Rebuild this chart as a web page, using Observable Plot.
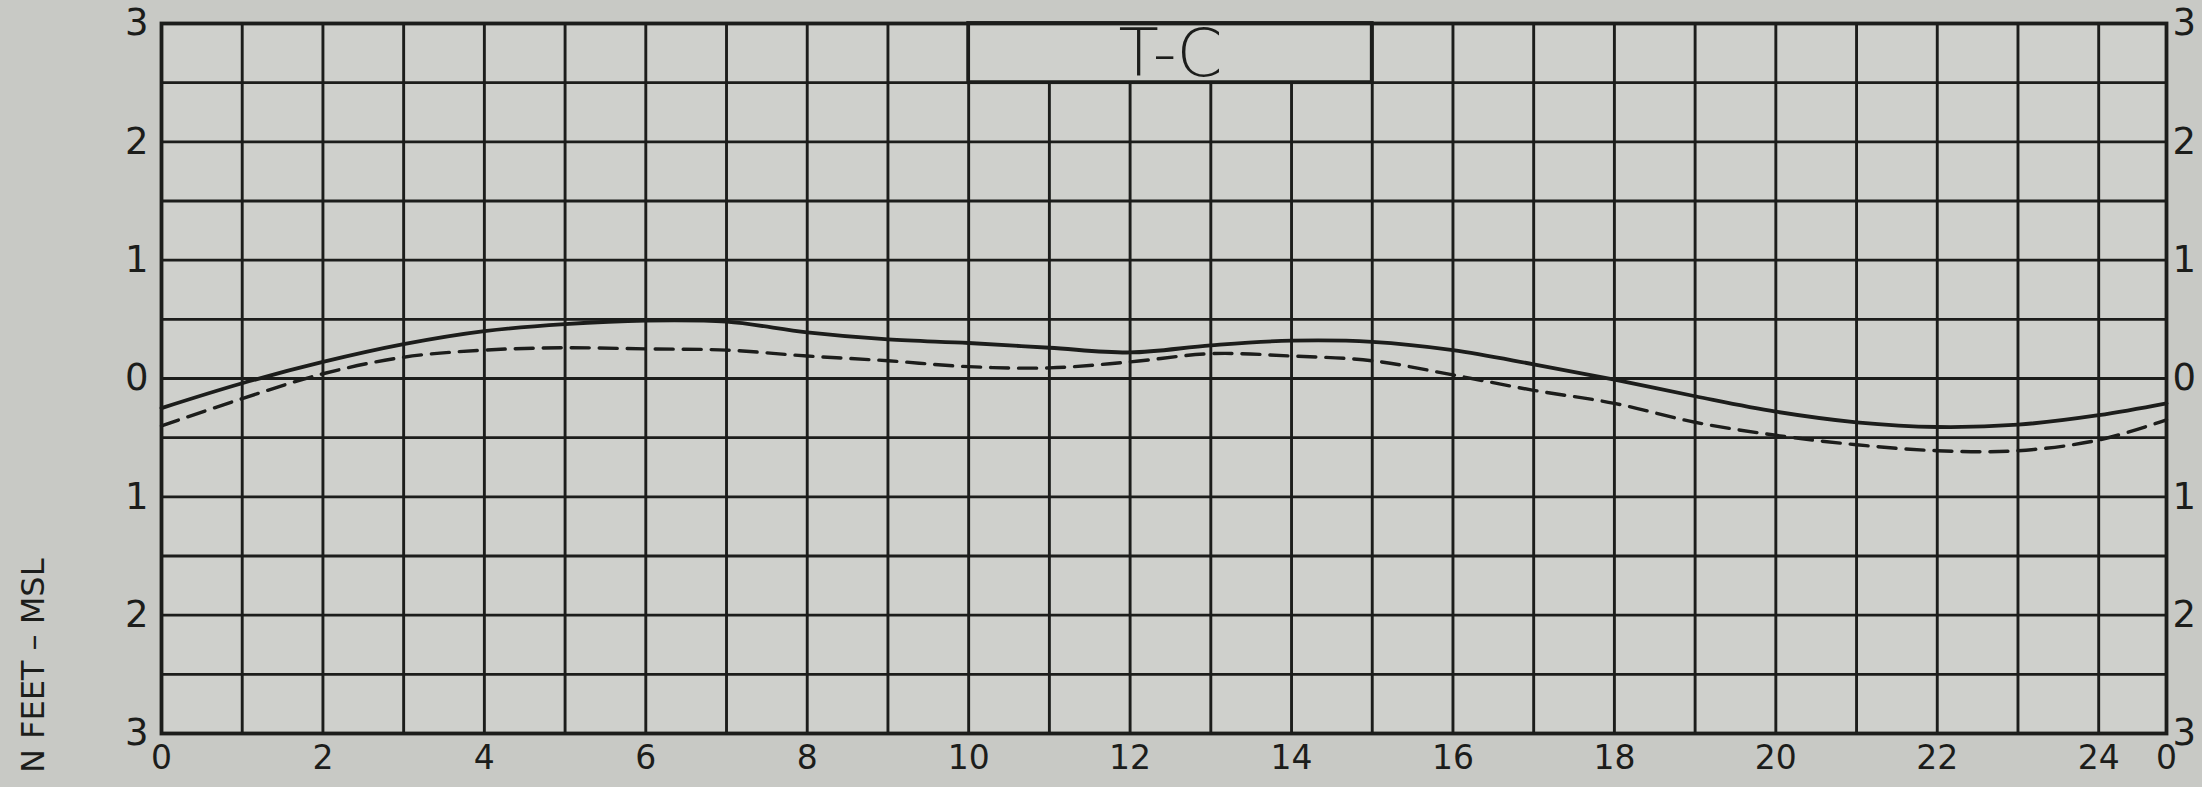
<!DOCTYPE html>
<html>
<head>
<meta charset="utf-8">
<script src="https://cdn.jsdelivr.net/npm/d3@7"></script>
<script src="https://cdn.jsdelivr.net/npm/@observablehq/plot@0.6"></script>
<style>
  html, body { margin: 0; padding: 0; background: #c8c9c5; }
  #chart svg { display: block; }
</style>
</head>
<body>
<div id="chart"></div>
<script>
// ---- data ----
const hours = [0, 1, 2, 3, 4, 5, 6, 7, 8, 9, 10, 11, 12, 13, 14, 15, 16, 17, 18, 19, 20, 21, 22, 23, 24, 24.84];
const solidSeries = [-0.25, -0.04, 0.14, 0.29, 0.40, 0.46, 0.49, 0.48, 0.39, 0.33, 0.30, 0.26, 0.22, 0.28, 0.32, 0.31, 0.24, 0.12, -0.01, -0.15, -0.28, -0.37, -0.41, -0.39, -0.31, -0.21];
const dashedSeries = [-0.40, -0.17, 0.04, 0.18, 0.24, 0.26, 0.25, 0.24, 0.19, 0.15, 0.10, 0.09, 0.14, 0.21, 0.19, 0.15, 0.03, -0.10, -0.21, -0.37, -0.48, -0.56, -0.61, -0.61, -0.52, -0.35];

const xTicks = [0, 2, 4, 6, 8, 10, 12, 14, 16, 18, 20, 22, 24, 24.84];
const xTickLabels = ["0", "2", "4", "6", "8", "10", "12", "14", "16", "18", "20", "22", "24", "0"];
const yTicks = [-3, -2, -1, 0, 1, 2, 3];
const yTickLabels = ["3", "2", "1", "0", "1", "2", "3"];
const gridHours = [0, 1, 2, 3, 4, 5, 6, 7, 8, 9, 10, 11, 12, 13, 14, 15, 16, 17, 18, 19, 20, 21, 22, 23, 24];
const gridFeet = [-3, -2.5, -2, -1.5, -1, -0.5, 0, 0.5, 1, 1.5, 2, 2.5, 3];
const xDomain = [0, 24.84];
const yDomain = [-3, 3];

const chartTitle = "T-C";
const titleBox = [{x1: 10, x2: 15, y1: 2.5, y2: 3, label: chartTitle}];
const yTitle = "N FEET – MSL";

// ---- build ----
const solidData = hours.map((h, i) => ({h, v: solidSeries[i]}));
const dashedData = hours.map((h, i) => ({h, v: dashedSeries[i]}));
const xLabelOf = new Map(xTicks.map((t, i) => [t, xTickLabels[i]]));
const yLabelOf = new Map(yTicks.map((t, i) => [t, yTickLabels[i]]));

const ink = "#1c1d1b";
const font = "'DejaVu Sans', sans-serif";

const chart = Plot.plot({
  width: 2202,
  height: 787,
  marginLeft: 161,
  marginRight: 36,
  marginTop: 23,
  marginBottom: 54,
  style: {background: "transparent", color: ink, fontFamily: font, overflow: "visible"},
  x: {domain: xDomain, axis: null},
  y: {domain: yDomain, axis: null},
  marks: [
    Plot.frame({fill: "#cfd0cc", stroke: "none"}),
    Plot.ruleY(gridFeet, {stroke: ink, strokeWidth: 2.9}),
    Plot.ruleX(gridHours, {stroke: ink, strokeWidth: 2.9}),
    Plot.rect(titleBox, {x1: "x1", x2: "x2", y1: "y1", y2: "y2", fill: "#cfd0cc", stroke: ink, strokeWidth: 3.8}),
    Plot.text(titleBox, {x: d => (d.x1 + d.x2) / 2, y: d => (d.y1 + d.y2) / 2, text: "label",
      fontSize: 66, fontWeight: 300, fill: ink, dy: 2, style: {letterSpacing: "9px"}}),
    Plot.line(dashedData, {x: "h", y: "v", curve: "catmull-rom", stroke: ink, strokeWidth: 3.4, strokeDasharray: "18,10"}),
    Plot.line(solidData, {x: "h", y: "v", curve: "catmull-rom", stroke: ink, strokeWidth: 3.8}),
    Plot.frame({stroke: ink, strokeWidth: 3.8}),
    Plot.axisY(yTicks, {anchor: "left", tickSize: 0, tickPadding: 13, fontSize: 37, tickFormat: d => yLabelOf.get(d), fill: ink}),
    Plot.axisY(yTicks, {anchor: "right", tickSize: 0, tickPadding: 6, fontSize: 37, tickFormat: d => yLabelOf.get(d), fill: ink}),
    Plot.axisX(xTicks, {anchor: "bottom", tickSize: 0, tickPadding: 12, fontSize: 33, tickFormat: d => xLabelOf.get(d), fill: ink}),
    Plot.text([yTitle], {frameAnchor: "left", dx: -128, dy: 180, rotate: -90, textAnchor: "end",
      fontSize: 32, fill: ink, style: {letterSpacing: "3px"}})
  ]
});

document.getElementById("chart").appendChild(chart);
</script>
</body>
</html>
